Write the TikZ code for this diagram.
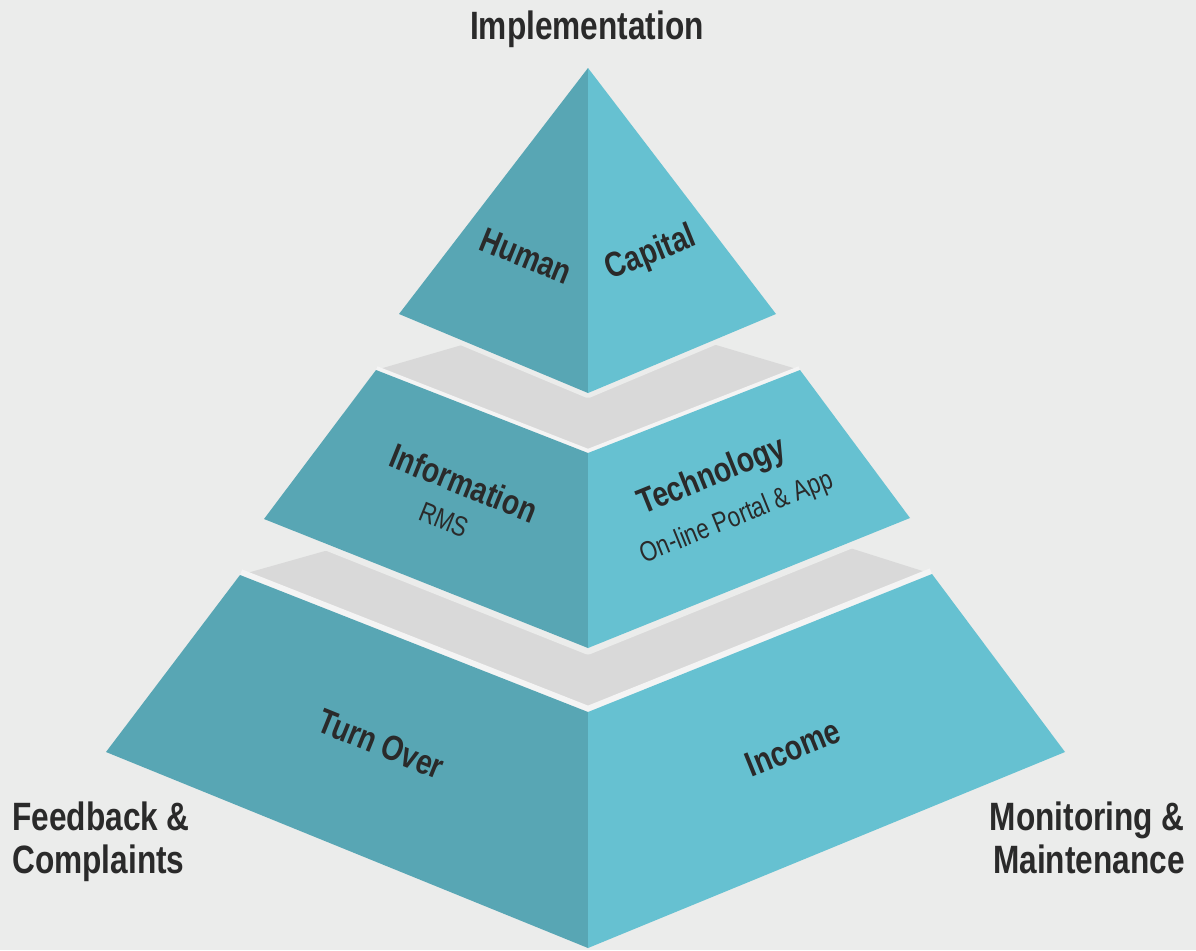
\documentclass[tikz,border=0pt]{standalone}
\usepackage{fontspec}
\setmainfont{Liberation Sans}[FakeStretch=0.8]
\usetikzlibrary{positioning}

\definecolor{bgcol}{HTML}{EBECEB}
\definecolor{tealdark}{HTML}{58A6B4}
\definecolor{teallight}{HTML}{66C1D1}
\definecolor{slabgray}{HTML}{D9D9D9}
\definecolor{edgewhite}{HTML}{F4F4F4}
\definecolor{labeltext}{HTML}{2A2A2A}

\tikzset{
  facelabel/.style={font=\bfseries\fontsize{20}{22}\selectfont, text=labeltext, inner sep=0pt},
  sublabel/.style={font=\fontsize{16}{18}\selectfont, text=labeltext, inner sep=0pt},
  cornerlabel/.style={font=\bfseries\fontsize{22.5}{25}\selectfont, text=labeltext, inner sep=0pt},
  gapline/.style={bgcol, line join=round},
  rimline/.style={edgewhite, line join=round}
}

\begin{document}
\begin{tikzpicture}[x=0.02cm,y=-0.02cm]

    \useasboundingbox (0,0) rectangle (1196,950);
    \fill[bgcol] (0,0) rectangle (1196,950);

    %Corner points
    \coordinate (apex) at (588,68);
    \coordinate (topL) at (399,314);
    \coordinate (topR) at (776,314);
    \coordinate (topB) at (588,393);
    \coordinate (midTL) at (376,370);
    \coordinate (midTR) at (800,370);
    \coordinate (midT) at (588,453);
    \coordinate (midL) at (264,519);
    \coordinate (midR) at (910,518);
    \coordinate (midB) at (588,648);
    \coordinate (lowTL) at (240,575);
    \coordinate (lowTR) at (932,574);
    \coordinate (lowT) at (588,712);
    \coordinate (lowL) at (106,752);
    \coordinate (lowR) at (1065,752);
    \coordinate (lowB) at (588,948);

    %Bottom tier
    \fill[slabgray] (lowTL) -- (325,551) -- (850,548) -- (lowTR) -- (lowT) -- cycle;
    \draw[rimline, line width=6.8pt] (lowTL) -- (lowT) -- (lowTR);
    \fill[tealdark] (lowTL) -- (lowL) -- (lowB) -- (lowT) -- cycle;
    \fill[teallight] (lowT) -- (lowB) -- (lowR) -- (lowTR) -- cycle;

    %Middle tier
    \draw[gapline, line width=7.4pt] (midTL) -- (midL) -- (midB) -- (midR) -- (midTR);
    \fill[slabgray] (midTL) -- (462,345) -- (716,345) -- (midTR) -- (midT) -- cycle;
    \draw[rimline, line width=4.5pt] (midTL) -- (midT) -- (midTR);
    \fill[tealdark] (midTL) -- (midL) -- (midB) -- (midT) -- cycle;
    \fill[teallight] (midT) -- (midB) -- (midR) -- (midTR) -- cycle;

    %Top tier
    \draw[gapline, line width=5.7pt] (topL) -- (topB) -- (topR);
    \fill[tealdark] (apex) -- (topL) -- (topB) -- cycle;
    \fill[teallight] (apex) -- (topB) -- (topR) -- cycle;

    %Face labels
    \node[facelabel, rotate=-22] (human) at (526,256) {Human};
    \node[facelabel, rotate=22] (capital) at (651,254) {Capital};
    \node[facelabel, rotate=-22] (information) at (464,483) {Information};
    \node[sublabel, rotate=-22] (rms) at (444,520) {RMS};
    \node[facelabel, rotate=22] (technology) at (712,477) {Technology};
    \node[sublabel, rotate=22] (portal) at (737,518) {On-line Portal \& App};
    \node[facelabel, rotate=-22] (turnover) at (381,744) {Turn Over};
    \node[facelabel, rotate=22] (income) at (793,748) {Income};

    %Corner labels
    \node[cornerlabel, anchor=base] (implementation) at (587,39) {Implementation};
    \node[cornerlabel, anchor=north west, align=left] (feedback) at (12,801) {Feedback \&\\Complaints};
    \node[cornerlabel, anchor=north east, align=right] (monitoring) at (1185,801) {Monitoring \&\\Maintenance};

\end{tikzpicture}
\end{document}
